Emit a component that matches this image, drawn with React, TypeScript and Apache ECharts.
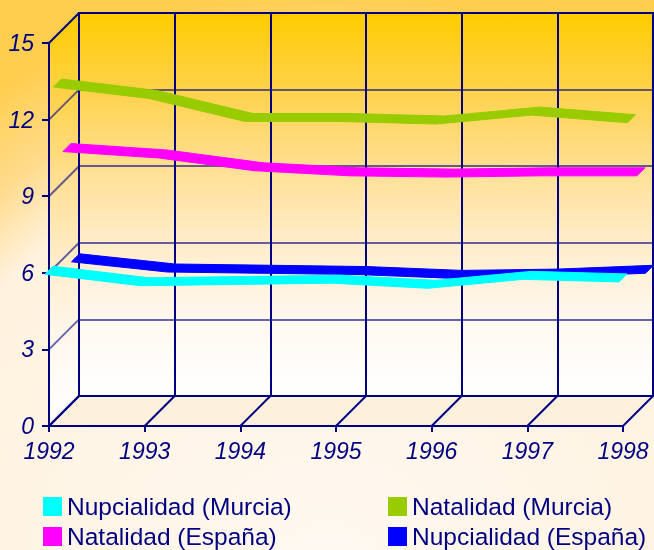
import React, { useEffect, useRef } from 'react';
import * as echarts from 'echarts';

// ---- data ----
const YEARS = ['1992', '1993', '1994', '1995', '1996', '1997', '1998'];
const Y_TICKS = [0, 3, 6, 9, 12, 15];
const NUPCIALIDAD_MURCIA = [6.1, 5.65, 5.7, 5.75, 5.55, 5.9, 5.8];
const NATALIDAD_MURCIA = [13.1, 12.65, 11.75, 11.75, 11.65, 12.0, 11.7];
const NATALIDAD_ESPANA = [10.2, 9.95, 9.45, 9.25, 9.2, 9.25, 9.25];
const NUPCIALIDAD_ESPANA = [5.55, 5.15, 5.1, 5.05, 4.9, 4.95, 5.1];
const SERIES_NAMES = ['Nupcialidad (Murcia)', 'Natalidad (Murcia)', 'Natalidad (España)', 'Nupcialidad (España)'];
const SERIES_VALUES = [NUPCIALIDAD_MURCIA, NATALIDAD_MURCIA, NATALIDAD_ESPANA, NUPCIALIDAD_ESPANA];

// ---- styles / layout ----
const NAVY = '#000080';
const COLORS = ['#00FFFF', '#99CC00', '#FF00FF', '#0000FF'];
const DEPTHS = [-4, 4.5, 14, 22.5];
const RIBBON = 8;
const WALL = 30;
const FRONT = { left: 49, top: 43, width: 574, height: 383 };
const FONT = '"Liberation Sans", Arial, sans-serif';

const wallGradient = () =>
  new echarts.graphic.LinearGradient(0, 0, 0, 1, [
    { offset: 0, color: '#FFCC00' },
    { offset: 0.2, color: '#FFD24A' },
    { offset: 0.4, color: '#FFDF92' },
    { offset: 0.6, color: '#FFEDCB' },
    { offset: 0.8, color: '#FFF8EF' },
    { offset: 1, color: '#FFFFFF' },
  ]);

const makeRender = (color: string) => (params: any, api: any) => {
  const i = api.value(0);
  const p0 = api.coord([i, api.value(1)]);
  const p1 = api.coord([i + 1, api.value(2)]);
  return {
    type: 'polygon',
    shape: {
      points: [p0, p1, [p1[0] + RIBBON, p1[1] - RIBBON], [p0[0] + RIBBON, p0[1] - RIBBON]],
    },
    style: { fill: color, stroke: color, lineWidth: 1 },
  };
};

export default function App() {
  const ref = useRef<HTMLDivElement>(null);

  useEffect(() => {
    if (!ref.current) return;
    const chart = echarts.init(ref.current, undefined, { renderer: 'svg' });

    const grids: any[] = [
      {
        left: FRONT.left + WALL, top: FRONT.top - WALL, width: FRONT.width, height: FRONT.height,
        show: true, backgroundColor: wallGradient(), borderColor: NAVY, borderWidth: 2,
      },
      { left: FRONT.left, top: FRONT.top, width: FRONT.width, height: FRONT.height },
      ...DEPTHS.map((d) => ({ left: FRONT.left + d, top: FRONT.top - d, width: FRONT.width, height: FRONT.height })),
    ];

    const labelStyle = { color: NAVY, fontSize: 23, fontStyle: 'italic', fontFamily: FONT };

    const xAxes: any[] = [
      {
        gridIndex: 0, type: 'category', data: YEARS, boundaryGap: false,
        axisLine: { show: false }, axisTick: { show: false }, axisLabel: { show: false },
        splitLine: { show: true, lineStyle: { color: NAVY, width: 2 } },
      },
      {
        gridIndex: 1, type: 'category', data: YEARS, boundaryGap: false,
        axisLine: { show: true, lineStyle: { color: NAVY, width: 2 } },
        axisTick: { show: true, length: 6, lineStyle: { color: NAVY, width: 2 } },
        axisLabel: { ...labelStyle, margin: 13 },
        splitLine: { show: false },
      },
      ...DEPTHS.map((_, k) => ({ gridIndex: k + 2, type: 'category', data: YEARS, boundaryGap: false, show: false })),
    ];

    const yAxes: any[] = [
      {
        gridIndex: 0, type: 'value', min: 0, max: 15, interval: 3,
        axisLine: { show: false }, axisTick: { show: false }, axisLabel: { show: false },
        splitLine: { show: true, lineStyle: { color: 'rgba(0,0,128,0.6)', width: 2 } },
      },
      {
        gridIndex: 1, type: 'value', min: 0, max: 15, interval: 3,
        axisLine: { show: true, lineStyle: { color: NAVY, width: 2 } },
        axisTick: { show: true, length: 7, lineStyle: { color: NAVY, width: 2 } },
        axisLabel: { ...labelStyle, margin: 15 },
        splitLine: { show: false },
      },
      ...DEPTHS.map((_, k) => ({ gridIndex: k + 2, type: 'value', min: 0, max: 15, interval: 3, show: false })),
    ];

    const series = SERIES_VALUES.map((vals, k) => ({
      type: 'custom',
      name: SERIES_NAMES[k],
      xAxisIndex: k + 2,
      yAxisIndex: k + 2,
      z: 10 - k,
      itemStyle: { color: COLORS[k] },
      encode: { x: 0, y: 1 },
      data: vals.slice(0, -1).map((v, i) => [i, v, vals[i + 1]]),
      renderItem: makeRender(COLORS[k]),
    }));

    const legendBase = {
      orient: 'vertical', icon: 'rect', itemWidth: 19, itemHeight: 19, itemGap: 5,
      selectedMode: false, padding: 0, height: 70, width: 300,
      textStyle: { color: NAVY, fontSize: 24.5, fontFamily: FONT },
    };

    chart.setOption({
      animation: false,
      backgroundColor: new echarts.graphic.RadialGradient(327, 590, 600, [
        { offset: 0, color: '#FFF9F2' },
        { offset: 0.74, color: '#FFF2DE' },
        { offset: 0.86, color: '#FFDB8C' },
        { offset: 1, color: '#FFCE4E' },
      ], true),
      grid: grids,
      xAxis: xAxes,
      yAxis: yAxes,
      legend: [
        { ...legendBase, data: [SERIES_NAMES[0], SERIES_NAMES[2]], left: 43, top: 494 },
        { ...legendBase, data: [SERIES_NAMES[1], SERIES_NAMES[3]], left: 388, top: 494 },
      ],
      series,
    });

    const fp = (x: number, y: number) => chart.convertToPixel({ xAxisIndex: 1, yAxisIndex: 1 } as any, [x, y]) as number[];
    const bp = (x: number, y: number) => chart.convertToPixel({ xAxisIndex: 0, yAxisIndex: 0 } as any, [x, y]) as number[];
    const last = YEARS.length - 1;
    const top = Y_TICKS[Y_TICKS.length - 1];

    const graphic: any[] = [
      {
        type: 'polygon', z: -1,
        shape: { points: [fp(0, 0), fp(last, 0), bp(last, 0), bp(0, 0)] },
        style: { fill: '#FDF0DC' },
      },
      {
        type: 'polygon', z: -1,
        shape: { points: [fp(0, 0), fp(0, top), bp(0, top), bp(0, 0)] },
        style: { fill: wallGradient() },
      },
    ];
    Y_TICKS.forEach((v) => {
      const a = fp(0, v), b = bp(0, v);
      const edge = v === 0 || v === top;
      graphic.push({
        type: 'line', z: 1,
        shape: { x1: a[0], y1: a[1], x2: b[0], y2: b[1] },
        style: { stroke: edge ? NAVY : 'rgba(0,0,128,0.6)', lineWidth: 2 },
      });
    });
    YEARS.forEach((_, i) => {
      const a = fp(i, 0), b = bp(i, 0);
      graphic.push({
        type: 'line', z: 1,
        shape: { x1: a[0], y1: a[1], x2: b[0], y2: b[1] },
        style: { stroke: NAVY, lineWidth: 2 },
      });
    });

    chart.setOption({ graphic });

    return () => chart.dispose();
  }, []);

  return <div ref={ref} style={{ position: 'fixed', left: 0, top: 0, width: 654, height: 550 }} />;
}
